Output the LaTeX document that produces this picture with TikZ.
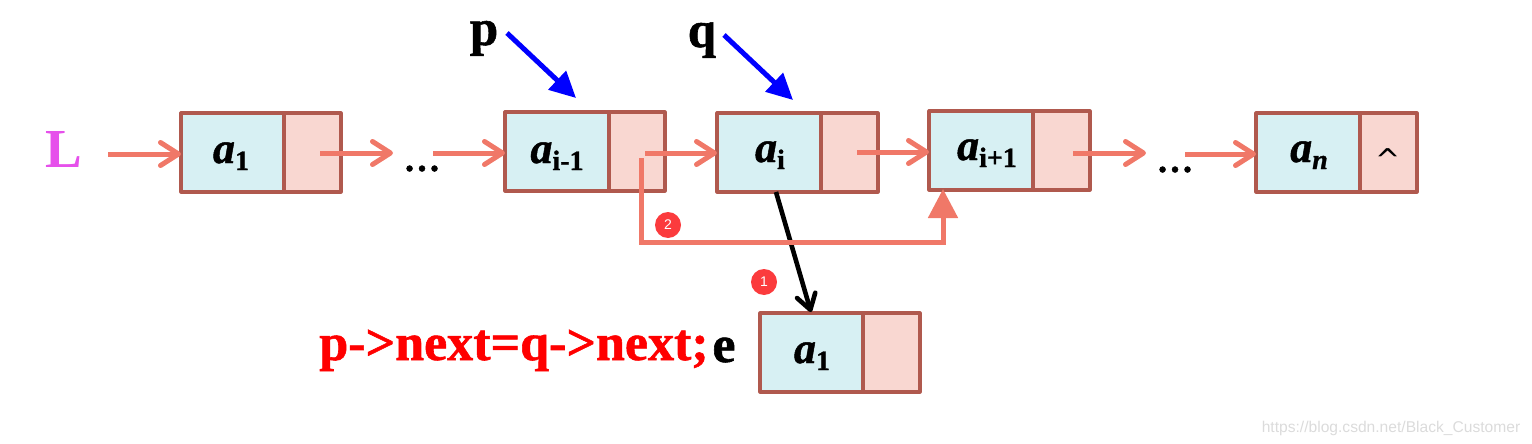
\documentclass[tikz,border=0pt]{standalone}
\usepackage{fontspec}
\setmainfont{Liberation Serif}
\newfontfamily\heavy[FakeBold=1.1,BoldFont={Liberation Serif Bold},BoldFeatures={FakeBold=1.1},ItalicFont={Liberation Serif Bold Italic},ItalicFeatures={FakeBold=1.1}]{Liberation Serif Bold}
\newfontfamily\wmfont{Liberation Sans}
\newfontfamily\djfont{DejaVu Sans}
\usetikzlibrary{arrows.meta}
\definecolor{edgeC}{HTML}{B0594E}
\definecolor{dataC}{HTML}{D7F0F3}
\definecolor{ptrC}{HTML}{F9D7D1}
\definecolor{linkC}{HTML}{F07868}
\definecolor{badgeC}{HTML}{FB3B3D}
\tikzset{
  x=1pt,y=-1pt,
  cellbox/.style={draw=edgeC,line width=3.2pt,line join=round,inner sep=0pt,outer sep=0pt,anchor=north west},
  databox/.style={cellbox,fill=dataC},
  ptrbox/.style={cellbox,fill=ptrC},
  vallabel/.style={anchor=base,inner sep=0pt},
  link/.style={draw=linkC,line width=5pt,-{Straight Barb[length=18pt,width=23pt,line width'=5pt,round]},shorten >=0pt},
  openlink/.style={draw=linkC,line width=5pt,line join=miter,-{Triangle[length=29pt,width=29pt]}},
  blueptr/.style={draw=blue,line width=5pt,-{Triangle[length=26pt,width=25pt]}},
  blackptr/.style={draw=black,line width=4.6pt,-{Straight Barb[length=15pt,width=19pt,line width'=4.6pt,round]}},
  badge/.style={circle,fill=badgeC,text=white,minimum size=26pt,inner sep=0pt,font=\wmfont\fontsize{14}{14}\selectfont},
  bigtext/.style={font=\heavy\fontsize{51}{51}\selectfont,anchor=base,inner sep=0pt},
  dotstext/.style={font=\heavy\fontsize{37}{37}\selectfont,anchor=base,inner sep=0pt},
}
% name, left, top, divider, right, bottom
\newcommand{\cellpair}[6]{%
  \node[databox,minimum width={#4-#2},minimum height={#6-#3}] (#1d) at (#2,#3) {};
  \node[ptrbox,minimum width={#5-#4},minimum height={#6-#3}] (#1p) at (#4,#3) {};
}
% value label: letter a with a lowered subscript
\newcommand{\vallab}[4]{\node[vallabel] (#1) at (#2,#3) {{\heavy\itshape\fontsize{44}{44}\selectfont a}\raisebox{-7pt}{\heavy\fontsize{28}{28}\selectfont #4}};}
\begin{document}
\begin{tikzpicture}
\useasboundingbox (0,0) rectangle (1532,444);
\cellpair{a}{181}{113}{284}{341}{192}
\cellpair{b}{505}{112}{609}{665}{191}
\cellpair{c}{717}{113}{821}{878}{192}
\cellpair{f}{929}{111}{1033}{1090}{190}
\cellpair{g}{1256}{113}{1360}{1417}{192}
\cellpair{e}{760}{313}{863}{920}{392}

\vallab{la}{231}{163}{1}
\vallab{lb}{557}{163}{i-1}
\vallab{lc}{770}{162}{i}
\vallab{lf}{987}{160}{i+1}
\vallab{lg}{1309}{162}{\itshape n}
\vallab{le}{812}{363}{1}
\node[font=\djfont\fontsize{30}{30}\selectfont,anchor=base,inner sep=0pt] (caret) at (1388,170) {\^{}};

\node[anchor=base,inner sep=0pt,text={rgb,255:red,230;green,80;blue,235},font=\bfseries\fontsize{55}{55}\selectfont] (L) at (64,167) {L};
\node[bigtext] (P) at (484,45) {p};
\node[bigtext] (Q) at (702,47) {q};
\node[dotstext] (dots1) at (422,171) {…};
\node[dotstext] (dots2) at (1175,172) {…};
\node[anchor=base,inner sep=0pt,text=red,font=\heavy\fontsize{52}{52}\selectfont] (code) at (514,360) {p->next=q->next;};
\node[anchor=base,inner sep=0pt,font=\heavy\fontsize{52}{52}\selectfont] (E) at (724,362) {e};
\node[anchor=base,inner sep=0pt,text=black!14,font=\wmfont\fontsize{15.6}{15.6}\selectfont] (wm) at (1391,432) {https://blog.csdn.net/Black\_Customer};

\coordinate (sL) at (108,154);
\coordinate (s1) at (320,153);
\coordinate (t1) at (393,153);
\coordinate (s2) at (433,153);
\coordinate (s3) at (645,153);
\coordinate (s4) at (857,152);
\coordinate (s5) at (1073,153);
\coordinate (t5) at (1146,153);
\coordinate (s6) at (1185,154);
\coordinate (r0) at (641,158);
\coordinate (r1) at (641,242);
\coordinate (r2) at (943,242);
\coordinate (r3) at (943,189);
\coordinate (sP) at (507,33);
\coordinate (tP) at (576,98);
\coordinate (sQ) at (724,35);
\coordinate (tQ) at (793,100);
\coordinate (k0) at (776,192);
\coordinate (k1) at (811,312);

\draw[link] (sL) -- (ad.west |- sL);
\draw[link] (s1) -- (t1);
\draw[link] (s2) -- (bd.west |- s2);
\draw[link] (s3) -- (cd.west |- s3);
\draw[link] (s4) -- (fd.west |- s4);
\draw[link] (s5) -- (t5);
\draw[link] (s6) -- (gd.west |- s6);
\draw[blackptr] (k0) -- (k1);
\draw[openlink] (r0) -- (r1) -- (r2) -- (r3);
\draw[blueptr] (sP) -- (tP);
\draw[blueptr] (sQ) -- (tQ);
\node[badge] (n2) at (668,225) {2};
\node[badge] (n1) at (764,282) {1};
\end{tikzpicture}
\end{document}
